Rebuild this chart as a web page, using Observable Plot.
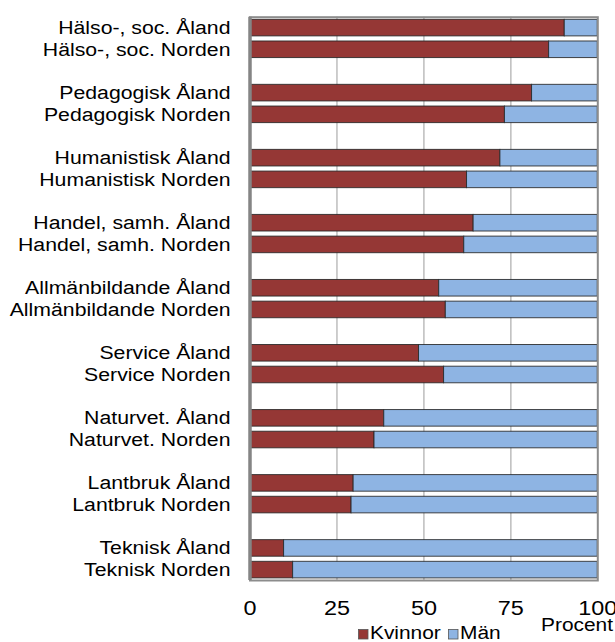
<!DOCTYPE html>
<html>
<head>
<meta charset="utf-8">
<script src="https://cdn.jsdelivr.net/npm/d3@7"></script>
<script src="https://cdn.jsdelivr.net/npm/@observablehq/plot@0.6"></script>
<style>
  body { margin: 0; background: #fff; font-family: "Liberation Sans", Arial, sans-serif; }
  #wrap { position: relative; width: 615px; height: 642px; overflow: hidden; }
  #legend { position: absolute; left: 0; top: 610px; }
</style>
</head>
<body>
<div id="wrap"></div>
<script>
const categories = [
  "Hälso-, soc. Åland", "Hälso-, soc. Norden",
  "Pedagogisk Åland", "Pedagogisk Norden",
  "Humanistisk Åland", "Humanistisk Norden",
  "Handel, samh. Åland", "Handel, samh. Norden",
  "Allmänbildande Åland", "Allmänbildande Norden",
  "Service Åland", "Service Norden",
  "Naturvet. Åland", "Naturvet. Norden",
  "Lantbruk Åland", "Lantbruk Norden",
  "Teknisk Åland", "Teknisk Norden"
];
const kvinnor = [90.5, 86.0, 81.1, 73.3, 72.0, 62.4, 64.3, 61.6, 54.4, 56.3, 48.6, 55.8, 38.6, 35.8, 29.8, 29.2, 9.8, 12.4];
const man = [9.5, 14.0, 18.9, 26.7, 28.0, 37.6, 35.7, 38.4, 45.6, 43.7, 51.4, 44.2, 61.4, 64.2, 70.2, 70.8, 90.2, 87.6];
const series = ["Kvinnor", "Män"];
const xTicks = [0, 25, 50, 75, 100];
const colors = ["#953735", "#8EB4E3"];
const unitLabel = "Procent";

const rows = [];
categories.forEach((c, i) => {
  rows.push({cat: c, serie: "Kvinnor", value: kvinnor[i]});
  rows.push({cat: c, serie: "Män", value: man[i]});
});
const domain = [];
categories.forEach((c, i) => {
  domain.push(c);
  if (i % 2 === 1 && i < categories.length - 1) domain.push("_gap" + i);
});
const fmtY = d => d.startsWith("_gap") ? "" : d;

const chart = Plot.plot({
  width: 615,
  height: 642,
  marginLeft: 249.5,
  marginRight: 17.7,
  marginTop: 16.7,
  marginBottom: 62,
  style: {fontFamily: "'Liberation Sans', Arial, sans-serif", fontSize: "18px", color: "#000", background: "#fff", overflow: "visible"},
  x: {domain: [0, 100], label: null},
  y: {domain, range: [16.7, 580.5], paddingInner: 0.235, paddingOuter: 0.12, round: false, label: null},
  color: {domain: series, range: colors},
  marks: [
    Plot.ruleX([25, 50, 75], {stroke: "#bdbdbd", strokeWidth: 1.5}),
    Plot.barX(rows, Plot.stackX({x: "value", y: "cat", fill: "serie", order: series,
      stroke: "#262626", strokeWidth: 1, strokeOpacity: 0.85})),
    Plot.frame({stroke: "#8c8c8c", strokeWidth: 2}),
    Plot.ruleX([0], {stroke: "#858585", strokeWidth: 3.5}),
    Plot.axisX({ticks: xTicks, tickSize: 0, tickPadding: 21, fontSize: 19.5}),
    Plot.axisY({tickSize: 0, tickPadding: 19.5, fontSize: 18, tickFormat: fmtY})
  ]
});
const wrap = document.getElementById("wrap");
wrap.appendChild(chart);

function stretch(el, k) {
  const w = el.getComputedTextLength();
  if (w > 0) {
    el.setAttribute("textLength", w * k);
    el.setAttribute("lengthAdjust", "spacingAndGlyphs");
  }
}
chart.querySelectorAll('[aria-label="y-axis tick label"] text').forEach(t => stretch(t, 1.18));
chart.querySelectorAll('[aria-label="x-axis tick label"] text').forEach(t => stretch(t, 1.2));

// legend and unit label
const lg = d3.select(wrap).append("svg")
  .attr("id", "legend")
  .attr("width", 615).attr("height", 32)
  .style("font-family", "'Liberation Sans', Arial, sans-serif")
  .style("font-size", "18px");
const legendX = [358, 448];
series.forEach((s, i) => {
  lg.append("rect").attr("x", legendX[i] + 0.5).attr("y", 19.5).attr("width", 9.5).attr("height", 9.5)
    .attr("fill", colors[i]).attr("stroke", "#555").attr("stroke-width", 0.8);
  lg.append("text").attr("x", legendX[i] + 12).attr("y", 29).attr("fill", "#000").text(s);
});
lg.append("text").attr("x", 613).attr("y", 20.5).attr("text-anchor", "end").attr("fill", "#000").text(unitLabel);
lg.selectAll("text").each(function() { stretch(this, 1.16); });
</script>
</body>
</html>
